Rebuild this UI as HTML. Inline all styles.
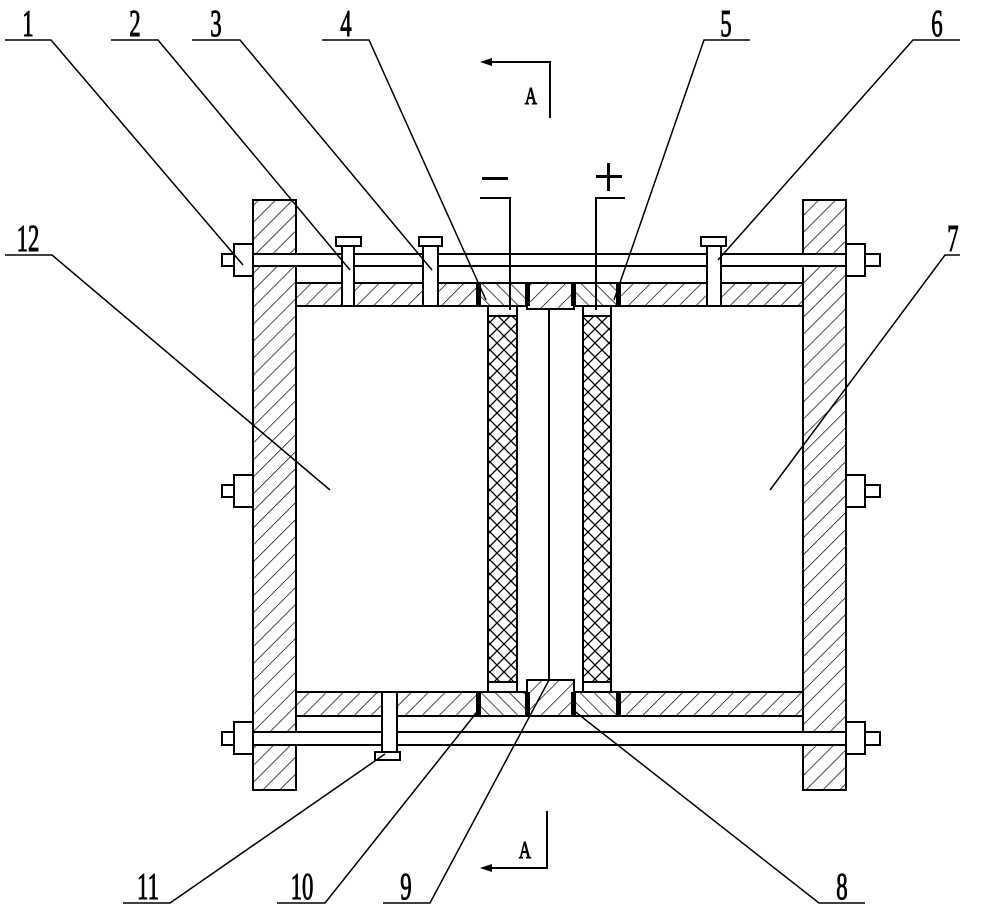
<!DOCTYPE html>
<html><head><meta charset="utf-8"><style>
html,body{margin:0;padding:0;background:#fff}
svg{display:block}
text{font-family:"Liberation Serif",serif;fill:#000;stroke:#000;stroke-width:1}
</style></head><body>
<svg width="1000" height="914" viewBox="0 0 1000 914" xmlns="http://www.w3.org/2000/svg">
<defs>
<pattern id="h1" patternUnits="userSpaceOnUse" width="12" height="12" patternTransform="rotate(45)">
<rect width="12" height="12" fill="#fff"/><line x1="0" y1="0" x2="0" y2="12" stroke="#000" stroke-width="1.4"/></pattern>
<pattern id="h2" patternUnits="userSpaceOnUse" width="10" height="10" patternTransform="rotate(-45)">
<rect width="10" height="10" fill="#fff"/><line x1="0" y1="0" x2="0" y2="10" stroke="#000" stroke-width="1.4"/></pattern>
<pattern id="hx" patternUnits="userSpaceOnUse" width="14" height="14">
<rect width="14" height="14" fill="#fff"/><path d="M0 0L14 14M14 0L0 14" stroke="#000" stroke-width="1.3"/></pattern>
</defs>
<g stroke="#000" stroke-width="2" fill="none">
<rect x="253" y="200" width="43" height="590" fill="url(#h1)"/>
<rect x="803" y="200" width="43" height="590" fill="url(#h1)"/>
<rect x="296" y="283" width="507" height="23" fill="url(#h1)"/>
<rect x="296" y="692" width="507" height="24" fill="url(#h1)"/>
<rect x="479" y="283" width="48" height="23" fill="url(#h2)"/>
<rect x="527" y="283" width="47" height="26" fill="url(#h1)"/>
<rect x="574" y="283" width="45" height="23" fill="url(#h2)"/>
<rect x="479" y="692" width="48" height="24" fill="url(#h2)"/>
<rect x="527" y="680" width="47" height="36" fill="url(#h1)"/>
<rect x="574" y="692" width="45" height="24" fill="url(#h2)"/>
<rect x="222" y="254" width="658" height="12" fill="#fff"/>
<rect x="222" y="732" width="658" height="13" fill="#fff"/>
<rect x="222" y="485" width="31" height="12" fill="#fff"/>
<rect x="846" y="485" width="34" height="12" fill="#fff"/>
<rect x="234" y="244" width="19" height="32" fill="#fff"/>
<rect x="846" y="244" width="19" height="32" fill="#fff"/>
<rect x="234" y="475" width="19" height="32" fill="#fff"/>
<rect x="846" y="475" width="19" height="32" fill="#fff"/>
<rect x="234" y="722" width="19" height="32" fill="#fff"/>
<rect x="846" y="722" width="19" height="32" fill="#fff"/>
<rect x="342" y="246" width="12" height="60" fill="#fff"/><rect x="336" y="237" width="25" height="9" fill="#fff"/>
<rect x="423" y="246" width="15" height="60" fill="#fff"/><rect x="419" y="237" width="23" height="9" fill="#fff"/>
<rect x="707" y="246" width="14" height="60" fill="#fff"/><rect x="701" y="237" width="25" height="9" fill="#fff"/>
<rect x="382" y="692" width="15" height="60" fill="#fff"/><rect x="375" y="752" width="25" height="8" fill="#fff"/>
<rect x="488" y="316" width="29" height="369" fill="url(#hx)"/>
<rect x="583" y="316" width="28" height="369" fill="url(#hx)"/>
<rect x="488" y="306" width="29" height="10" fill="#fff"/>
<rect x="583" y="306" width="28" height="10" fill="#fff"/>
<rect x="488" y="682" width="29" height="10" fill="#fff"/>
<rect x="583" y="682" width="28" height="10" fill="#fff"/>
<line x1="549" y1="309" x2="549" y2="680"/>
<polyline points="480,198 510,198 510,310"/>
<polyline points="625,198 596,198 596,310"/>
<polyline points="484,62 550,62 550,118"/>
<polyline points="547,811 547,868 484,868"/>
<g stroke-width="1.5">
<polyline points="5,40 51,40 243,265"/>
<polyline points="111,40 158,40 350,270"/>
<polyline points="192,40 240,40 432,270"/>
<polyline points="322,40 369,40 486,300"/>
<polyline points="750,40 704,40 614,300"/>
<polyline points="960,40 913,40 718,260"/>
<polyline points="5,255 52,255 330,490"/>
<polyline points="960,255 945,255 770,490"/>
<polyline points="123,903 170,903 385,754"/>
<polyline points="277,903 325,903 477,712"/>
<polyline points="383,903 430,903 549,680"/>
<polyline points="865,903 819,903 573,710"/>
</g>
</g>
<g fill="#000">
<rect x="476" y="283" width="5" height="23"/><rect x="525" y="283" width="5" height="23"/>
<rect x="571" y="283" width="5" height="23"/><rect x="616" y="283" width="5" height="23"/>
<rect x="476" y="692" width="5" height="24"/><rect x="525" y="692" width="5" height="24"/>
<rect x="571" y="692" width="5" height="24"/><rect x="616" y="692" width="5" height="24"/>
<polygon points="480,62 492,58 492,66"/>
<polygon points="480,868 492,864 492,872"/>
<rect x="482" y="177" width="26" height="3"/>
<rect x="596" y="175" width="26" height="3"/><rect x="607" y="163" width="3" height="28"/>
</g>
<g font-size="38" text-anchor="middle">
<text x="28" y="36" transform="translate(28 0) scale(0.6 1) translate(-28 0)">1</text>
<text x="135" y="36" transform="translate(135 0) scale(0.6 1) translate(-135 0)">2</text>
<text x="216" y="36" transform="translate(216 0) scale(0.6 1) translate(-216 0)">3</text>
<text x="346" y="36" transform="translate(346 0) scale(0.6 1) translate(-346 0)">4</text>
<text x="726" y="36" transform="translate(726 0) scale(0.6 1) translate(-726 0)">5</text>
<text x="937" y="36" transform="translate(937 0) scale(0.6 1) translate(-937 0)">6</text>
<text x="28" y="251" transform="translate(28 0) scale(0.6 1) translate(-28 0)">12</text>
<text x="953" y="251" transform="translate(953 0) scale(0.6 1) translate(-953 0)">7</text>
<text x="148" y="899" transform="translate(148 0) scale(0.6 1) translate(-148 0)">11</text>
<text x="302" y="899" transform="translate(302 0) scale(0.6 1) translate(-302 0)">10</text>
<text x="406" y="899" transform="translate(406 0) scale(0.6 1) translate(-406 0)">9</text>
<text x="842" y="899" transform="translate(842 0) scale(0.6 1) translate(-842 0)">8</text>
</g>
<g font-size="24" text-anchor="middle">
<text x="531" y="104" transform="translate(531 0) scale(0.7 1) translate(-531 0)">A</text>
<text x="525" y="858" transform="translate(525 0) scale(0.7 1) translate(-525 0)">A</text>
</g>
</svg>
</body></html>
